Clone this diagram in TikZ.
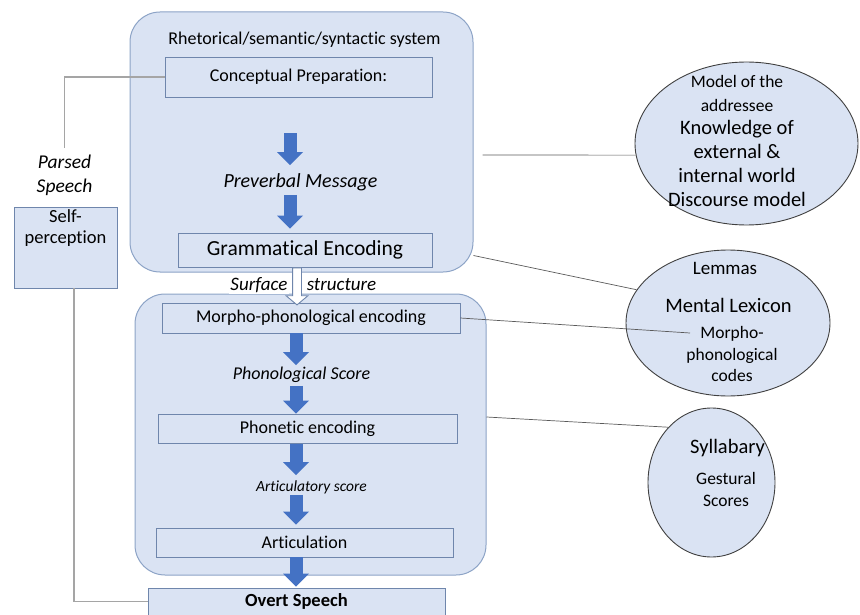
\documentclass[tikz,border=0pt]{standalone}
\usepackage{fontspec}
\setmainfont{Carlito}[Ligatures=NoCommon]
\usetikzlibrary{arrows.meta,shapes.geometric,shapes.arrows,calc}

\definecolor{boxfill}{HTML}{DAE3F3}
\definecolor{boxline}{HTML}{6F86AC}
\definecolor{frameline}{HTML}{8CA3C6}
\definecolor{arrowblue}{HTML}{4472C4}
\definecolor{linkgrey}{HTML}{5A5A5A}
\definecolor{leftgrey}{HTML}{A5A5A5}
\definecolor{ovalline}{HTML}{404040}

\tikzset{
  frame/.style={draw=frameline, fill=boxfill, line width=1pt, rounded corners=30pt},
  stage/.style={draw=boxline, fill=boxfill, line width=0.9pt, inner sep=0pt, font=\fontsize{18}{22}\selectfont},
  tag/.style={inner sep=0pt, font=\fontsize{20}{24}\selectfont\itshape},
  downarrow/.style={draw=arrowblue, line width=13pt, -{Triangle[length=13pt,width=26pt,line width=0pt]}},
  link/.style={draw=linkgrey, line width=0.7pt},
  backlink/.style={draw=leftgrey, line width=1.1pt},
  oval/.style={ellipse, draw=ovalline, fill=boxfill, line width=0.9pt, inner sep=0pt},
  ovaltext/.style={inner sep=0pt, align=center},
}

\begin{document}
\begin{tikzpicture}[x=1pt, y=-1pt]
    \useasboundingbox (0,0) rectangle (860,615);

    % the two systems
    \node[frame, minimum width=343pt, minimum height=260pt] (conceptualizer) at (301.5,142) {};
    \node[frame, minimum width=351pt, minimum height=281pt] (formulator) at (310.5,434.5) {};
    \node[inner sep=0pt, font=\fontsize{18}{21}\selectfont] (title) at (304.5,40) {Rhetorical/semantic/syntactic system};

    \coordinate (upcol) at (290,0);
    \coordinate (lowcol) at (296,0);
    \coordinate (surfcol) at (297,0);
    \coordinate (mpend) at (690,333);

    % stages
    \node[stage, minimum width=267pt, minimum height=40pt] (concept) at (298.5,77) {Conceptual Preparation:};
    \node[tag] (preverbal) at (300.5,182) {Preverbal Message};
    \node[stage, minimum width=254pt, minimum height=34pt, font=\fontsize{21.5}{25}\selectfont] (gram) at (305,250) {Grammatical Encoding};

    \node[tag, fill=white, inner sep=1.5pt, font=\fontsize{19}{23}\selectfont\itshape] (surface) at (259,285) {Surface};
    \node[tag, fill=white, inner sep=1.5pt, font=\fontsize{19}{23}\selectfont\itshape] (structure) at (341.5,285) {structure};

    \node[stage, minimum width=298pt, minimum height=30pt] (morph) at (311,318) {Morpho-phonological encoding};
    \node[tag, font=\fontsize{18}{22}\selectfont\itshape] (phonscore) at (301.5,375) {Phonological Score};
    \node[stage, minimum width=299pt, minimum height=29pt] (phonetic) at (307.5,428.5) {Phonetic encoding};
    \node[tag, font=\fontsize{15.5}{19}\selectfont\itshape] (articscore) at (311.5,487) {Articulatory score};
    \node[stage, minimum width=297pt, minimum height=29pt] (artic) at (304.5,542.5) {Articulation};
    \node[stage, minimum width=297pt, minimum height=27pt, font=\fontsize{18.5}{22}\selectfont\bfseries] (overt) at (296.5,601.5) {Overt Speech};

    % self monitoring
    \node[inner sep=6pt, align=center, font=\fontsize{19.5}{24}\selectfont\itshape] (parsed) at (64.5,175) {Parsed\\Speech};
    \node[stage, minimum width=103pt, minimum height=81pt] (selfp) at (65.5,247.5) {};
    \node[inner sep=0pt, align=center, font=\fontsize{18.5}{21}\selectfont] (selfptext) at (65.5,228) {Self-\\perception};

    % knowledge stores
    \node[oval, minimum width=223pt, minimum height=163pt] (world) at (746.5,143.5) {};
    \node[ovaltext, font=\fontsize{17.5}{24}\selectfont] (addressee) at (737,93) {Model of the\\addressee};
    \node[ovaltext, font=\fontsize{20.5}{24.3}\selectfont] (knowledge) at (737,163.5) {Knowledge of\\external \&\\internal world\\Discourse model};

    \node[oval, minimum width=204pt, minimum height=146pt] (lexicon) at (728,323) {};
    \node[ovaltext, font=\fontsize{19}{23}\selectfont] (lemmas) at (725,268) {Lemmas};
    \node[ovaltext, font=\fontsize{20.5}{24}\selectfont] (mentallex) at (728.5,305) {Mental Lexicon};
    \node[ovaltext, font=\fontsize{17.5}{21.5}\selectfont] (codes) at (732,354) {Morpho-\\phonological\\codes};

    \node[oval, minimum width=127pt, minimum height=149pt] (syllabary) at (711.5,482.5) {};
    \node[ovaltext, font=\fontsize{20.5}{24}\selectfont] (syll) at (727.5,448) {Syllabary};
    \node[ovaltext, font=\fontsize{17.5}{22}\selectfont] (gestural) at (726,489) {Gestural\\Scores};

    % connections
    \draw[backlink] (concept.west) -| (parsed.north);
    \draw[backlink] ([xshift=8.5pt]selfp.south) |- (overt.west);
    \draw[link] ($(conceptualizer.east)+(9,13)$) -- (world.186);
    \draw[link] ($(conceptualizer.south east)+(0,-17)$) -- (lexicon.160);
    \draw[link] (morph.east) -- (mpend);
    \draw[link] ($(formulator.east)+(0,-17.5)$) -- (syllabary.128);

    % flow arrows
    \draw[downarrow, shorten <=36pt, shorten >=8pt] (concept.south -| upcol) -- (preverbal.north -| upcol);
    \draw[downarrow, shorten <=4pt, shorten >=4pt] (preverbal.south -| upcol) -- (gram.north -| upcol);
    \node[single arrow, draw=boxline, fill=white, line width=0.9pt, rotate=-90, minimum height=37pt, minimum width=21pt,
          single arrow head extend=6.5pt, single arrow tip angle=100, inner sep=4pt, anchor=tail] (surf) at (gram.south -| surfcol) {};
    \draw[downarrow, shorten >=2pt] (morph.south -| lowcol) -- (phonscore.north -| lowcol);
    \draw[downarrow, shorten <=3pt] (phonscore.south -| lowcol) -- (phonetic.north -| lowcol);
    \draw[downarrow, shorten <=1pt, shorten >=5pt] (phonetic.south -| lowcol) -- (articscore.north -| lowcol);
    \draw[downarrow, shorten <=1pt, shorten >=3pt] (articscore.south -| lowcol) -- (artic.north -| lowcol);
    \draw[downarrow, shorten >=1pt] (artic.south -| lowcol) -- (overt.north -| lowcol);

\end{tikzpicture}
\end{document}
